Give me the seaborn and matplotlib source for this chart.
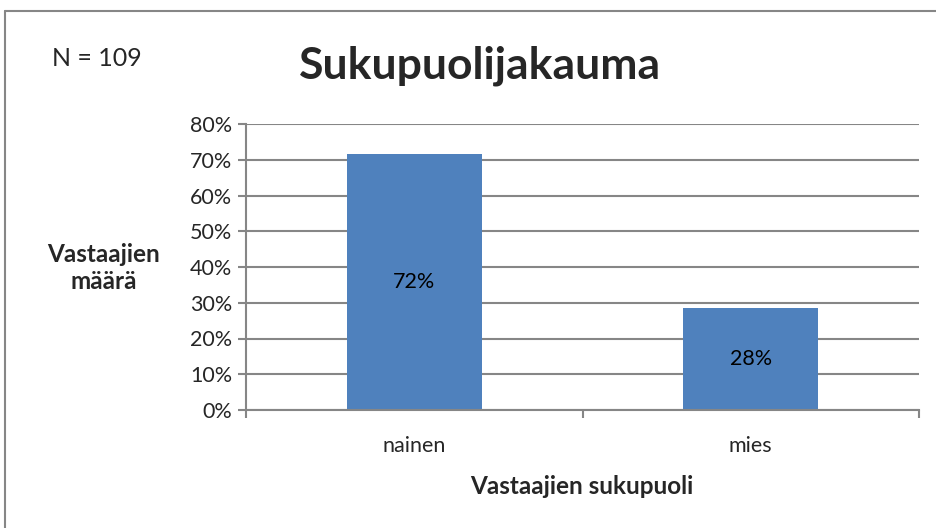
import matplotlib
matplotlib.use("Agg")
import matplotlib.pyplot as plt
from matplotlib.lines import Line2D
from matplotlib.ticker import PercentFormatter, FixedLocator
import seaborn as sns
import pandas as pd

# chart data
categories = ["nainen", "mies"]
shares = [0.7156, 0.2844]
n_total = 109

BAR = "#4F81BD"
GRID = "#868686"

sns.set_theme(style="white")
plt.rcParams["font.family"] = ["Lato", "DejaVu Sans"]

df = pd.DataFrame({"sukupuoli": categories, "osuus": shares})

fig = plt.figure(figsize=(9.36, 5.28), dpi=100)
fig.patch.set_linewidth(0)
ax = fig.add_axes([246 / 936, 1 - 410 / 528, (919 - 246) / 936, (410 - 124) / 528])

sns.barplot(data=df, x="sukupuoli", y="osuus", color=BAR, width=0.4,
            saturation=1, ax=ax, edgecolor="none")

ax.set_xlim(-0.5, len(categories) - 0.5)
ax.set_ylim(0, 0.8)
ax.set_yticks([i / 10 for i in range(9)])
ax.yaxis.set_major_formatter(PercentFormatter(1.0, decimals=0))
ax.yaxis.grid(True, color=GRID, linewidth=1.5)
ax.set_axisbelow(True)

for side in ["top", "right"]:
    ax.spines[side].set_visible(False)
for side in ["left", "bottom"]:
    ax.spines[side].set_color(GRID)
    ax.spines[side].set_linewidth(1.5)

ax.tick_params(axis="y", which="major", direction="out", length=6, width=1.5,
               color=GRID, labelsize=15.5, pad=4, left=True)
ax.tick_params(axis="x", which="major", length=0, labelsize=15.5, pad=19)
ax.xaxis.set_minor_locator(FixedLocator([-0.5, 0.5, 1.5]))
ax.tick_params(axis="x", which="minor", direction="out", length=6, width=1.5,
               color=GRID, bottom=True)

ax.bar_label(ax.containers[0], labels=[f"{v:.0%}" for v in shares],
             label_type="center", fontsize=15.5, color="black")

ax.set_xlabel("")
ax.set_ylabel("")
fig.text(582 / 936, 1 - 487 / 528, "Vastaajien sukupuoli", ha="center", va="center",
         fontsize=17.5, fontweight="bold")
fig.text(104 / 936, 1 - 268 / 528, "Vastaajien\nmäärä", ha="center", va="center",
         fontsize=17.5, fontweight="bold", linespacing=1.2)

fig.text(480 / 936, 1 - 66 / 528, "Sukupuolijakauma", ha="center", va="center",
         fontsize=32, fontweight="bold")
fig.text(52 / 936, 1 - 58 / 528, f"N = {n_total}", ha="left", va="center", fontsize=18)

# outer chart frame (only top and left edges fall inside the image)
frame_kw = dict(transform=fig.transFigure, color=GRID, linewidth=1.5)
fig.lines.append(Line2D([5 / 936, 1.0], [1 - 11 / 528, 1 - 11 / 528], **frame_kw))
fig.lines.append(Line2D([5 / 936, 5 / 936], [0.0, 1 - 11 / 528], **frame_kw))

fig.savefig("out.png", dpi=100, facecolor="white")
